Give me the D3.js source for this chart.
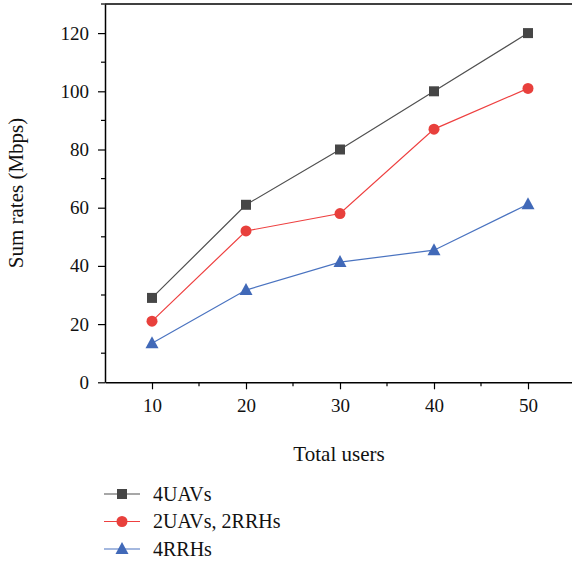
<!DOCTYPE html>
<html><head><meta charset="utf-8">
<script src="https://cdn.jsdelivr.net/npm/d3@7"></script>
<style>body{margin:0;background:#fff}svg{display:block}</style>
</head><body>
<svg id="c" width="572" height="563"></svg>
<script>
const users = [10, 20, 30, 40, 50];
const uav4 = [29, 61, 80, 100, 120];
const uav2rrh2 = [21, 52, 58, 87, 101];
const rrh4 = [13.4, 31.7, 41.3, 45.4, 61.2];
const xTicks = [10, 20, 30, 40, 50];
const yTicks = [0, 20, 40, 60, 80, 100, 120];
const seriesNames = ["4UAVs", "2UAVs, 2RRHs", "4RRHs"];

const series = [
  {name: seriesNames[0], values: uav4, line: "#505050", fill: "#464646", shape: "square"},
  {name: seriesNames[1], values: uav2rrh2, line: "#ee4040", fill: "#e8403c", shape: "circle"},
  {name: seriesNames[2], values: rrh4, line: "#4a73c0", fill: "#4169b8", shape: "triangle"}
];

const svg = d3.select("#c");
const font = "'Liberation Serif', 'DejaVu Serif', serif";
const x = d3.scaleLinear().domain([5, 55]).range([105, 575]);
const y = d3.scaleLinear().domain([0, 130]).range([382.3, 4]);

// minor ticks
const g = svg.append("g");
const xMinor = d3.range(5, 56, 5).filter(v => !xTicks.includes(v) && v > 5);
const yMinor = d3.range(10, 131, 10).filter(v => !yTicks.includes(v));
g.selectAll(".xm").data(xMinor).enter().append("line")
  .attr("x1", d => x(d)).attr("x2", d => x(d)).attr("y1", y(0)).attr("y2", y(0) + 4)
  .attr("stroke", "#000").attr("stroke-width", 1.2);
g.selectAll(".ym").data(yMinor).enter().append("line")
  .attr("y1", d => y(d)).attr("y2", d => y(d)).attr("x1", x(5)).attr("x2", x(5) - 4)
  .attr("stroke", "#000").attr("stroke-width", 1.2);

const xAxis = svg.append("g").attr("transform", `translate(0,${y(0)})`)
  .call(d3.axisBottom(x).tickValues(xTicks).tickSize(7).tickPadding(9).tickSizeOuter(0));
const yAxis = svg.append("g").attr("transform", `translate(${x(5)},0)`)
  .call(d3.axisLeft(y).tickValues(yTicks).tickSize(7).tickPadding(9).tickSizeOuter(0));
[xAxis, yAxis].forEach(a => {
  a.select(".domain").attr("stroke", "#000").attr("stroke-width", 1.5);
  a.selectAll(".tick line").attr("stroke", "#000").attr("stroke-width", 1.2);
  a.selectAll("text").attr("font-family", font).attr("font-size", 19).attr("fill", "#111");
});
// top frame
svg.append("line").attr("x1", x(5)).attr("x2", 572).attr("y1", y(130)).attr("y2", y(130))
  .attr("stroke", "#000").attr("stroke-width", 1.5);

// titles
svg.append("text").attr("x", 339).attr("y", 461).attr("text-anchor", "middle")
  .attr("font-family", font).attr("font-size", 21).attr("fill", "#111").text("Total users");
svg.append("text").attr("transform", "translate(23,193) rotate(-90)").attr("text-anchor", "middle")
  .attr("font-family", font).attr("font-size", 21).attr("fill", "#111").text("Sum rates (Mbps)");

function marker(sel, shape, fill) {
  if (shape === "square") sel.append("rect").attr("x", -5).attr("y", -5).attr("width", 10).attr("height", 10).attr("fill", fill);
  else if (shape === "circle") sel.append("circle").attr("r", 5.5).attr("fill", fill);
  else sel.append("path").attr("d", "M0,-7L6.5,5L-6.5,5Z").attr("fill", fill);
}

const line = d3.line().x((d, i) => x(users[i])).y(d => y(d));
series.forEach(s => {
  svg.append("path").attr("d", line(s.values)).attr("fill", "none")
    .attr("stroke", s.line).attr("stroke-width", 1.2);
  s.values.forEach((v, i) => {
    const m = svg.append("g").attr("transform", `translate(${x(users[i])},${y(v)})`);
    marker(m, s.shape, s.fill);
  });
});

// legend
series.forEach((s, i) => {
  const ly = 494 + i * 27.5;
  svg.append("line").attr("x1", 104).attr("x2", 140).attr("y1", ly).attr("y2", ly)
    .attr("stroke", s.line).attr("stroke-width", 1.2);
  const m = svg.append("g").attr("transform", `translate(122,${ly})`);
  marker(m, s.shape, s.fill);
  svg.append("text").attr("x", 153).attr("y", ly + 6.5).attr("font-family", font)
    .attr("font-size", 20).attr("fill", "#111").text(s.name);
});
</script>
</body></html>
